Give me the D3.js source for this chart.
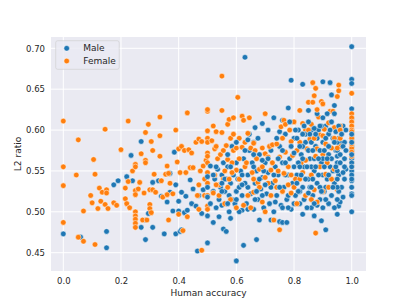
<!DOCTYPE html>
<html>
<head>
<meta charset="utf-8">
<script src="https://cdn.jsdelivr.net/npm/d3@7"></script>
<style>
  body { margin: 0; background: #fff; }
  text { font-family: "DejaVu Sans", sans-serif; fill: #262626; }
</style>
</head>
<body>
<div id="chart"></div>
<script>
// values: [human accuracy, L2 ratio]
const male = [
  [0.0,0.473],[0.06,0.469],[0.15,0.476],[0.15,0.456],[0.175,0.533],[0.19,0.538],[0.22,0.543],[0.235,0.569],
  [0.24,0.538],[0.27,0.586],[0.27,0.481],[0.285,0.466],[0.285,0.490],[0.295,0.498],[0.31,0.536],[0.31,0.481],
  [0.33,0.538],[0.34,0.519],[0.35,0.473],[0.36,0.512],[0.37,0.524],[0.37,0.547],[0.38,0.501],[0.385,0.573],
  [0.39,0.533],[0.39,0.473],[0.4,0.513],[0.4,0.501],[0.405,0.476],[0.41,0.478],[0.41,0.524],[0.42,0.499],
  [0.425,0.519],[0.43,0.502],[0.44,0.539],[0.445,0.510],[0.45,0.528],[0.46,0.507],[0.465,0.452],[0.47,0.520],
  [0.48,0.498],[0.485,0.527],
  [0.6,0.440],[0.625,0.459],[0.67,0.466],[0.5,0.462],[0.52,0.487],[0.54,0.494],[0.555,0.479],[0.565,0.476],
  [0.58,0.492],[0.5,0.495],[0.62,0.502],[0.63,0.689],[0.64,0.530],[0.645,0.595],[0.66,0.585],[0.665,0.603],
  [0.675,0.590],[0.69,0.608],[0.68,0.490],[0.72,0.490],[0.75,0.488],[0.76,0.487],[0.775,0.487],[0.79,0.661],
  [0.78,0.627],[0.83,0.656],[0.85,0.624],[0.9,0.659],[0.925,0.658],[0.93,0.643],[0.94,0.630],[0.91,0.478],
  [0.895,0.489],[0.87,0.495],[0.83,0.497],[0.86,0.505],[0.88,0.508],[0.92,0.510],[0.95,0.497],[0.955,0.507],
  [0.97,0.518],[0.975,0.540],[0.98,0.552],[0.73,0.615],[0.76,0.612],[0.75,0.598],
  [1.0,0.702],[1.0,0.662],[1.0,0.657],[1.0,0.626],[1.0,0.614],[1.0,0.600],[1.0,0.590],[1.0,0.580],
  [1.0,0.575],[1.0,0.565],[1.0,0.550],[1.0,0.545],[1.0,0.538],[1.0,0.530],[1.0,0.522],[1.0,0.520],[1.0,0.500],
  [0.5,0.543],[0.5,0.530],[0.5,0.518],[0.51,0.556],[0.51,0.510],[0.52,0.525],[0.525,0.540],[0.53,0.505],
  [0.535,0.552],[0.54,0.515],[0.545,0.530],[0.55,0.545],[0.55,0.508],[0.555,0.560],[0.56,0.525],[0.565,0.540],
  [0.57,0.555],[0.575,0.500],[0.575,0.520],[0.58,0.535],[0.585,0.580],[0.59,0.545],[0.595,0.510],[0.6,0.525],
  [0.6,0.560],[0.605,0.540],[0.61,0.500],[0.615,0.550],[0.62,0.520],[0.625,0.565],[0.63,0.535],[0.635,0.510],
  [0.64,0.545],[0.645,0.575],[0.65,0.522],[0.655,0.560],[0.66,0.503],[0.665,0.535],[0.67,0.550],[0.675,0.515],
  [0.68,0.570],[0.685,0.528],[0.69,0.542],[0.695,0.505],[0.7,0.560],[0.705,0.522],[0.71,0.548],[0.715,0.510],
  [0.72,0.575],[0.725,0.535],[0.73,0.500],[0.735,0.555],[0.74,0.520],[0.745,0.545],[0.75,0.580],[0.755,0.508],
  [0.76,0.560],[0.765,0.530],[0.77,0.595],[0.775,0.515],[0.78,0.545],[0.785,0.565],[0.79,0.503],[0.795,0.535],
  [0.8,0.555],[0.8,0.590],[0.805,0.520],[0.81,0.545],[0.815,0.600],[0.82,0.510],[0.825,0.570],[0.83,0.530],
  [0.835,0.555],[0.84,0.585],[0.845,0.505],[0.85,0.540],[0.855,0.565],[0.86,0.600],[0.865,0.520],[0.87,0.550],
  [0.875,0.580],[0.88,0.535],[0.885,0.600],[0.89,0.515],[0.895,0.560],[0.9,0.545],[0.9,0.585],[0.905,0.525],
  [0.91,0.605],[0.915,0.540],[0.92,0.570],[0.925,0.555],[0.93,0.520],[0.935,0.590],[0.94,0.535],[0.945,0.575],
  [0.95,0.560],[0.95,0.600],[0.955,0.545],[0.96,0.585],[0.965,0.530],[0.97,0.605],[0.975,0.565],[0.96,0.512],
  [0.94,0.505],[0.92,0.595],[0.89,0.575],[0.87,0.602],[0.855,0.530],[0.835,0.515],[0.815,0.560],[0.79,0.580],
  [0.77,0.545],[0.745,0.565],[0.72,0.530],[0.695,0.550],[0.665,0.515],[0.64,0.503],[0.61,0.530],[0.585,0.515],
  [0.56,0.540],[0.53,0.555],[0.57,0.570],[0.6,0.585],[0.63,0.575],[0.66,0.555],[0.68,0.540],[0.71,0.600],
  [0.74,0.590],[0.76,0.575],[0.785,0.610],[0.81,0.590],[0.83,0.580],[0.85,0.610],[0.87,0.565],[0.88,0.590],
  [0.9,0.615],[0.915,0.620],[0.93,0.610],[0.945,0.598],[0.96,0.560],[0.975,0.585],[0.98,0.600],[0.97,0.548],
  [0.955,0.525],[0.935,0.550],[0.91,0.530],[0.885,0.545],[0.86,0.555],[0.84,0.540],[0.82,0.525],[0.8,0.510],
  [0.78,0.520],[0.76,0.505],[0.735,0.512],[0.71,0.565],[0.69,0.520],[0.66,0.570],[0.64,0.588],[0.62,0.545],
  [0.6,0.515],[0.58,0.555],[0.55,0.525],[0.52,0.545],
  [0.95,0.585],[0.95,0.575],[0.95,0.568],[0.95,0.550],[0.95,0.540],[0.95,0.530],[0.95,0.515],[0.955,0.590],
  [0.955,0.605],[0.945,0.555],[0.82,0.555],[0.83,0.565],[0.84,0.595],[0.85,0.575],[0.85,0.523],[0.86,0.585],
  [0.865,0.540],[0.875,0.555],[0.88,0.620],[0.89,0.530],[0.895,0.605],[0.9,0.565],[0.905,0.575],[0.905,0.555],
  [0.91,0.515],[0.92,0.545],[0.92,0.580],[0.925,0.600],[0.93,0.565],[0.935,0.530],[0.94,0.585],[0.94,0.620],
  [0.96,0.570],[0.965,0.595],[0.97,0.580],[0.975,0.555],[0.98,0.575],[0.8,0.572],[0.805,0.600],[0.81,0.535],
  [0.815,0.525],[0.82,0.580],[0.825,0.545],[0.83,0.595],[0.835,0.605],[0.845,0.555],[0.855,0.595],[0.86,0.530],
  [0.865,0.575],[0.87,0.510],[0.875,0.595],[0.885,0.565],[0.89,0.605],[0.895,0.525],[0.9,0.505],[0.91,0.590],
  [0.915,0.565],[1.0,0.595],[1.0,0.585],[1.0,0.570],[1.0,0.560],[1.0,0.555],[1.0,0.540],
  [0.7,0.533],[0.73,0.545],[0.75,0.530],[0.77,0.560],[0.78,0.505],[0.69,0.563],[0.67,0.525],[0.62,0.533],
  [0.57,0.510],[0.55,0.535]
];

const female = [
  [0.0,0.611],[0.0,0.555],[0.0,0.532],[0.0,0.487],[0.045,0.545],[0.052,0.588],[0.052,0.469],[0.07,0.464],
  [0.07,0.501],[0.095,0.520],[0.1,0.511],[0.105,0.564],[0.11,0.546],[0.11,0.460],[0.12,0.504],[0.125,0.529],
  [0.13,0.513],[0.135,0.524],[0.145,0.601],[0.145,0.509],[0.15,0.527],[0.15,0.523],[0.155,0.504],[0.175,0.511],
  [0.185,0.508],[0.2,0.576],[0.215,0.529],[0.215,0.516],[0.22,0.510],[0.225,0.537],[0.225,0.611],[0.23,0.505],
  [0.24,0.550],[0.25,0.558],[0.25,0.555],[0.25,0.526],[0.25,0.521],[0.25,0.500],[0.25,0.495],[0.25,0.491],
  [0.25,0.486],[0.25,0.481],[0.26,0.528],[0.265,0.536],[0.27,0.571],[0.275,0.490],[0.28,0.523],[0.285,0.597],
  [0.285,0.563],[0.285,0.560],[0.29,0.490],[0.295,0.607],[0.3,0.527],[0.3,0.509],[0.3,0.504],[0.305,0.499],
  [0.305,0.586],[0.31,0.575],[0.31,0.527],[0.315,0.546],[0.32,0.524],[0.335,0.616],[0.335,0.593],[0.335,0.568],
  [0.34,0.538],[0.345,0.518],[0.355,0.546],[0.36,0.556],[0.36,0.521],[0.365,0.547],[0.365,0.490],[0.37,0.535],
  [0.38,0.522],[0.39,0.600],[0.395,0.561],[0.4,0.577],[0.4,0.497],[0.405,0.548],[0.41,0.580],[0.415,0.477],
  [0.42,0.575],[0.425,0.548],[0.43,0.621],[0.43,0.494],[0.435,0.576],[0.44,0.554],[0.445,0.572],[0.45,0.554],
  [0.48,0.453],[0.46,0.585],[0.47,0.589],[0.48,0.586],[0.485,0.556],[0.49,0.540],[0.49,0.520],[0.495,0.563],
  [0.5,0.623],[0.5,0.625],[0.5,0.599],[0.5,0.590],[0.5,0.585],[0.5,0.572],[0.5,0.568],[0.5,0.560],
  [0.5,0.548],[0.5,0.535],[0.5,0.520],[0.5,0.507],[0.5,0.503],[0.475,0.550],[0.47,0.533],[0.465,0.520],
  [0.47,0.503],[0.515,0.587],[0.52,0.605],[0.525,0.577],[0.525,0.545],[0.53,0.598],[0.53,0.580],[0.535,0.565],
  [0.54,0.533],[0.545,0.570],[0.55,0.624],[0.55,0.666],[0.55,0.597],[0.555,0.575],[0.555,0.540],[0.56,0.550],
  [0.565,0.581],[0.57,0.607],[0.57,0.564],[0.575,0.613],[0.58,0.590],[0.585,0.560],[0.59,0.615],[0.59,0.595],
  [0.59,0.575],[0.6,0.578],[0.6,0.551],[0.605,0.640],[0.61,0.590],[0.61,0.565],[0.615,0.532],[0.62,0.617],
  [0.62,0.579],[0.625,0.612],[0.63,0.585],[0.63,0.555],[0.635,0.560],[0.64,0.596],[0.645,0.615],[0.65,0.578],
  [0.655,0.548],[0.66,0.584],[0.665,0.575],[0.67,0.565],[0.675,0.536],[0.68,0.552],[0.69,0.578],[0.7,0.620],
  [0.7,0.571],[0.71,0.567],[0.715,0.580],[0.72,0.551],[0.725,0.582],[0.73,0.490],[0.735,0.538],[0.74,0.583],
  [0.75,0.567],[0.75,0.478],[0.755,0.604],[0.76,0.590],[0.765,0.612],[0.77,0.607],[0.77,0.573],[0.78,0.555],
  [0.785,0.600],[0.79,0.586],[0.795,0.569],[0.8,0.610],[0.805,0.540],[0.81,0.575],[0.82,0.624],[0.82,0.585],
  [0.825,0.560],[0.83,0.608],[0.84,0.600],[0.845,0.577],[0.85,0.634],[0.855,0.589],[0.86,0.607],[0.865,0.658],
  [0.865,0.634],[0.87,0.642],[0.875,0.651],[0.875,0.474],[0.88,0.577],[0.885,0.616],[0.89,0.594],[0.895,0.635],
  [0.9,0.632],[0.9,0.570],[0.905,0.601],[0.91,0.583],[0.915,0.560],[0.92,0.609],[0.925,0.623],[0.93,0.578],
  [0.935,0.623],[0.94,0.603],[0.95,0.641],[0.955,0.655],[0.955,0.648],[0.96,0.605],[0.96,0.580],[0.95,0.527],
  [0.95,0.540],
  [1.0,0.645],[1.0,0.620],[1.0,0.615],[1.0,0.610],[1.0,0.605],[1.0,0.593],[1.0,0.586],[1.0,0.578],
  [1.0,0.568],[1.0,0.560],[1.0,0.555],[1.0,0.600],[1.0,0.598],[1.0,0.590],[1.0,0.583],[1.0,0.573],
  [0.53,0.533],[0.54,0.520],[0.56,0.510],[0.57,0.530],[0.58,0.515],[0.61,0.540],[0.625,0.508],[0.64,0.520],
  [0.65,0.505],[0.66,0.524],[0.68,0.530],[0.69,0.512],[0.7,0.500],[0.71,0.535],[0.72,0.520],[0.74,0.530],
  [0.76,0.525],[0.78,0.533],[0.8,0.530],[0.82,0.540],[0.84,0.520],[0.86,0.545],[0.87,0.527],[0.88,0.512],
  [0.9,0.525],[0.92,0.530],[0.93,0.540],[0.94,0.552],[0.6,0.505],[0.575,0.540],[0.52,0.523],[0.585,0.548],
  [0.765,0.547],[0.745,0.550],[0.725,0.560],[0.79,0.545],[0.81,0.510],[0.83,0.548],[0.86,0.515],[0.89,0.555],
  [0.91,0.546],[0.84,0.563],[0.875,0.568],[0.9,0.593],[0.79,0.523],[0.7,0.542],[0.66,0.540],[0.69,0.555],
  [0.96,0.600],[0.96,0.590],[0.95,0.578],[0.94,0.590],[0.87,0.590],[0.85,0.600],[0.83,0.595],[0.88,0.625]
];

const xTicks = [0.0, 0.2, 0.4, 0.6, 0.8, 1.0];
const yTicks = [0.45, 0.50, 0.55, 0.60, 0.65, 0.70];
const series = ["Male", "Female"];
const colors = ["#1f77b4", "#ff7f0e"];

const width = 407, height = 305,
      box = {left: 51, right: 366, top: 37, bottom: 271};

let svg = d3.select("#chart")
    .append("svg")
    .attr("width", width)
    .attr("height", height);

let x = d3.scaleLinear().domain([0, 1]).range([63.3, 351.7]);
let y = d3.scaleLinear().domain([0.45, 0.70]).range([252.7, 48.3]);

svg.append("rect")
    .attr("x", box.left).attr("y", box.top)
    .attr("width", box.right - box.left).attr("height", box.bottom - box.top)
    .attr("fill", "#eaeaf2");

// grid
svg.append("g")
    .selectAll("line").data(xTicks).join("line")
    .attr("x1", d => x(d)).attr("x2", d => x(d))
    .attr("y1", box.top).attr("y2", box.bottom)
    .attr("stroke", "#fff").attr("stroke-width", 1);
svg.append("g")
    .selectAll("line").data(yTicks).join("line")
    .attr("y1", d => y(d)).attr("y2", d => y(d))
    .attr("x1", box.left).attr("x2", box.right)
    .attr("stroke", "#fff").attr("stroke-width", 1);

// axes (labels only, seaborn darkgrid has no tick marks)
let xAxis = svg.append("g")
    .attr("transform", `translate(0,${box.bottom})`)
    .call(d3.axisBottom(x).tickValues(xTicks).tickFormat(d3.format(".1f")).tickSize(0).tickPadding(7));
let yAxis = svg.append("g")
    .attr("transform", `translate(${box.left},0)`)
    .call(d3.axisLeft(y).tickValues(yTicks).tickFormat(d3.format(".2f")).tickSize(0).tickPadding(6));
[xAxis, yAxis].forEach(g => {
    g.select(".domain").remove();
    g.selectAll("text")
        .style("font-family", "DejaVu Sans")
        .style("font-size", "8.5px")
        .attr("fill", "#262626");
});

// points, interleaved like a single seaborn collection
let pts = [];
const n = Math.max(male.length, female.length);
for (let i = 0; i < n; i++) {
    if (i < male.length) pts.push({v: male[i], s: 0});
    if (i < female.length) pts.push({v: female[i], s: 1});
}

svg.append("g")
    .selectAll("circle").data(pts).join("circle")
    .attr("cx", d => x(d.v[0]))
    .attr("cy", d => y(d.v[1]))
    .attr("r", 2.8)
    .attr("fill", d => colors[d.s])
    .attr("stroke", "#fff")
    .attr("stroke-width", 0.5);

// axis titles
svg.append("text")
    .attr("x", (box.left + box.right) / 2).attr("y", 296)
    .attr("text-anchor", "middle")
    .style("font-size", "9px")
    .text("Human accuracy");
svg.append("text")
    .attr("transform", `translate(21,${(box.top + box.bottom) / 2}) rotate(-90)`)
    .attr("text-anchor", "middle")
    .style("font-size", "9px")
    .text("L2 ratio");

// legend
let legend = svg.append("g");
legend.append("rect")
    .attr("x", 55.7).attr("y", 40.7)
    .attr("width", 63.5).attr("height", 28.6)
    .attr("rx", 2)
    .attr("fill", "#eaeaf2").attr("fill-opacity", 0.8)
    .attr("stroke", "#cccccc").attr("stroke-width", 0.6);
let item = legend.selectAll(".item").data(series).join("g")
    .attr("class", "item")
    .attr("transform", (d, i) => `translate(0,${48.3 + i * 12.7})`);
item.append("circle")
    .attr("cx", 66.7).attr("cy", 0).attr("r", 2.8)
    .attr("fill", (d, i) => colors[i])
    .attr("stroke", "#fff").attr("stroke-width", 0.5);
item.append("text")
    .attr("x", 83.3).attr("y", 0).attr("dy", "0.35em")
    .style("font-size", "9px")
    .text(d => d);
</script>
</body>
</html>
